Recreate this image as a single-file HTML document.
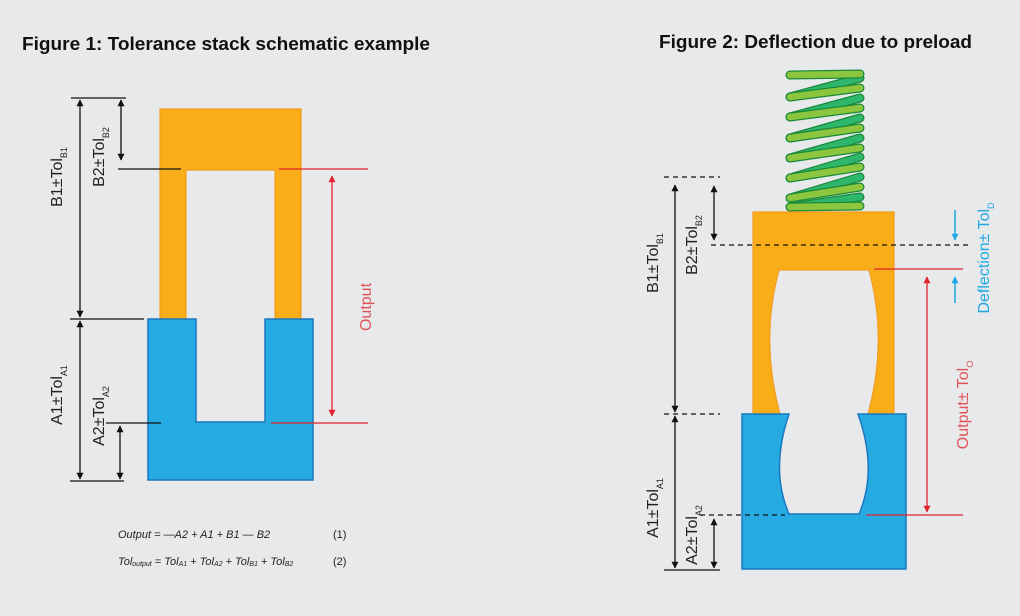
<!DOCTYPE html>
<html><head><meta charset="utf-8"><style>
html,body{margin:0;padding:0;background:#e8e9eb;}
svg{display:block;}
text{font-family:"Liberation Sans",sans-serif;}
</style></head><body>
<svg width="1020" height="616" viewBox="0 0 1020 616" xmlns="http://www.w3.org/2000/svg">
<defs>
<marker id="ak" viewBox="0 0 10 10" refX="9" refY="5" markerWidth="7" markerHeight="9" orient="auto-start-reverse" markerUnits="userSpaceOnUse"><path d="M0,0 L10,5 L0,10 Z" fill="#111"/></marker>
<marker id="ar" viewBox="0 0 10 10" refX="9" refY="5" markerWidth="7" markerHeight="9" orient="auto-start-reverse" markerUnits="userSpaceOnUse"><path d="M0,0 L10,5 L0,10 Z" fill="#e0232e"/></marker>
<marker id="ab" viewBox="0 0 10 10" refX="9" refY="5" markerWidth="7" markerHeight="9" orient="auto-start-reverse" markerUnits="userSpaceOnUse"><path d="M0,0 L10,5 L0,10 Z" fill="#1fa8e4"/></marker>
</defs>
<rect width="1020" height="616" fill="#e8e9eb"/>
<text x="22" y="50" font-size="18" font-weight="bold" fill="#111" textLength="408" lengthAdjust="spacingAndGlyphs">Figure 1: Tolerance stack schematic example</text>
<text x="659" y="48" font-size="18" font-weight="bold" fill="#111" textLength="313" lengthAdjust="spacingAndGlyphs">Figure 2: Deflection due to preload</text>

<!-- Figure 1 -->
<path d="M160,109 H301 V319 H275 V170 H186 V319 H160 Z" fill="#f9ae19" stroke="#f59a1a" stroke-width="1.2"/>
<path d="M148,319 H196 V422 H265 V319 H313 V480 H148 Z" fill="#25aae1" stroke="#1b78bf" stroke-width="1.5"/>
<g stroke="#111" stroke-width="1.3" fill="none">
<line x1="71" y1="98" x2="126" y2="98"/>
<line x1="70" y1="319" x2="144" y2="319"/>
<line x1="70" y1="481" x2="124" y2="481"/>
<line x1="118" y1="169" x2="181" y2="169"/>
<line x1="106" y1="423" x2="161" y2="423"/>
<line x1="80" y1="100" x2="80" y2="317" marker-start="url(#ak)" marker-end="url(#ak)"/>
<line x1="80" y1="321" x2="80" y2="479" marker-start="url(#ak)" marker-end="url(#ak)"/>
<line x1="121" y1="100" x2="121" y2="160" marker-start="url(#ak)" marker-end="url(#ak)"/>
<line x1="120" y1="426" x2="120" y2="479" marker-start="url(#ak)" marker-end="url(#ak)"/>
</g>
<g stroke="#e0232e" stroke-width="1.3">
<line x1="279" y1="169" x2="368" y2="169"/>
<line x1="271" y1="423" x2="368" y2="423"/>
<line x1="332" y1="176" x2="332" y2="416" marker-start="url(#ar)" marker-end="url(#ar)"/>
</g>
<g font-size="16" fill="#222">
<text transform="translate(62,177) rotate(-90)" text-anchor="middle">B1±Tol<tspan font-size="9" dy="5">B1</tspan></text>
<text transform="translate(104,157) rotate(-90)" text-anchor="middle">B2±Tol<tspan font-size="9" dy="5">B2</tspan></text>
<text transform="translate(62,395) rotate(-90)" text-anchor="middle">A1±Tol<tspan font-size="9" dy="5">A1</tspan></text>
<text transform="translate(104,416) rotate(-90)" text-anchor="middle">A2±Tol<tspan font-size="9" dy="5">A2</tspan></text>
</g>
<text transform="translate(371,307) rotate(-90)" text-anchor="middle" font-size="16" fill="#e0525a">Output</text>
<g font-size="11" font-style="italic" fill="#222">
<text x="118" y="538">Output = —A2 + A1 + B1 — B2</text>
<text x="333" y="538" font-style="normal">(1)</text>
<text x="118" y="565">Tol<tspan font-size="7" dy="1">output</tspan><tspan dy="-1"> = Tol</tspan><tspan font-size="7" dy="1">A1</tspan><tspan dy="-1"> + Tol</tspan><tspan font-size="7" dy="1">A2</tspan><tspan dy="-1"> + Tol</tspan><tspan font-size="7" dy="1">B1</tspan><tspan dy="-1"> + Tol</tspan><tspan font-size="7" dy="1">B2</tspan></text>
<text x="333" y="565" font-style="normal">(2)</text>
</g>

<!-- Figure 2 spring -->
<g stroke-linecap="round" fill="none">
<g stroke="#1a8a3a" stroke-width="9">
<path d="M860,78 L790,97 M860,98 L790,117 M860,118 L790,138 M860,138 L790,158 M860,157 L790,178 M860,177 L790,198 M860,197 L790,207"/>
</g>
<g stroke="#2fb66d" stroke-width="6.5">
<path d="M860,78 L790,97 M860,98 L790,117 M860,118 L790,138 M860,138 L790,158 M860,157 L790,178 M860,177 L790,198 M860,197 L790,207"/>
</g>
<g stroke="#1a8a3a" stroke-width="9">
<path d="M790,75 L860,74 M790,97 L860,88 M790,117 L860,108 M790,138 L860,128 M790,158 L860,148 M790,178 L860,167 M790,198 L860,187 M790,207 L860,206"/>
</g>
<g stroke="#8cc63f" stroke-width="6.5">
<path d="M790,75 L860,74 M790,97 L860,88 M790,117 L860,108 M790,138 L860,128 M790,158 L860,148 M790,178 L860,167 M790,198 L860,187 M790,207 L860,206"/>
</g>
</g>
<!-- orange and blue -->
<path d="M753,212 H894 V414 H868 Q888,340 869,270 H779 Q760,340 780,414 H753 Z" fill="#f9ae19" stroke="#f59a1a" stroke-width="1.2"/>
<path d="M742,414 H789 Q770,470 789,514 H859 Q878,470 858,414 H906 V569 H742 Z" fill="#25aae1" stroke="#1b78bf" stroke-width="1.5"/>
<g stroke="#111" stroke-width="1.3" fill="none">
<g stroke-dasharray="5,4">
<line x1="664" y1="177" x2="720" y2="177"/>
<line x1="711" y1="245" x2="969" y2="245"/>
<line x1="664" y1="414" x2="720" y2="414"/>
<line x1="700" y1="515" x2="785" y2="515"/>
</g>
<line x1="664" y1="570" x2="720" y2="570"/>
<line x1="675" y1="185" x2="675" y2="412" marker-start="url(#ak)" marker-end="url(#ak)"/>
<line x1="675" y1="416" x2="675" y2="568" marker-start="url(#ak)" marker-end="url(#ak)"/>
<line x1="714" y1="186" x2="714" y2="240" marker-start="url(#ak)" marker-end="url(#ak)"/>
<line x1="714" y1="519" x2="714" y2="568" marker-start="url(#ak)" marker-end="url(#ak)"/>
</g>
<g stroke="#e0232e" stroke-width="1.3">
<line x1="874" y1="269" x2="963" y2="269"/>
<line x1="866" y1="515" x2="963" y2="515"/>
<line x1="927" y1="277" x2="927" y2="512" marker-start="url(#ar)" marker-end="url(#ar)"/>
</g>
<g stroke="#1fa8e4" stroke-width="1.5">
<line x1="955" y1="210" x2="955" y2="240" marker-end="url(#ab)"/>
<line x1="955" y1="303" x2="955" y2="277" marker-end="url(#ab)"/>
</g>
<g font-size="16" fill="#222">
<text transform="translate(658,263) rotate(-90)" text-anchor="middle">B1±Tol<tspan font-size="9" dy="5">B1</tspan></text>
<text transform="translate(697,245) rotate(-90)" text-anchor="middle">B2±Tol<tspan font-size="9" dy="5">B2</tspan></text>
<text transform="translate(658,508) rotate(-90)" text-anchor="middle">A1±Tol<tspan font-size="9" dy="5">A1</tspan></text>
<text transform="translate(697,535) rotate(-90)" text-anchor="middle">A2±Tol<tspan font-size="9" dy="5">A2</tspan></text>
</g>
<text transform="translate(968,405) rotate(-90)" text-anchor="middle" font-size="16" fill="#e0525a">Output± Tol<tspan font-size="9" dy="5">O</tspan></text>
<text transform="translate(989,258) rotate(-90)" text-anchor="middle" font-size="16" fill="#1fa8e4">Deflection± Tol<tspan font-size="9" dy="5">D</tspan></text>
</svg>
</body></html>
